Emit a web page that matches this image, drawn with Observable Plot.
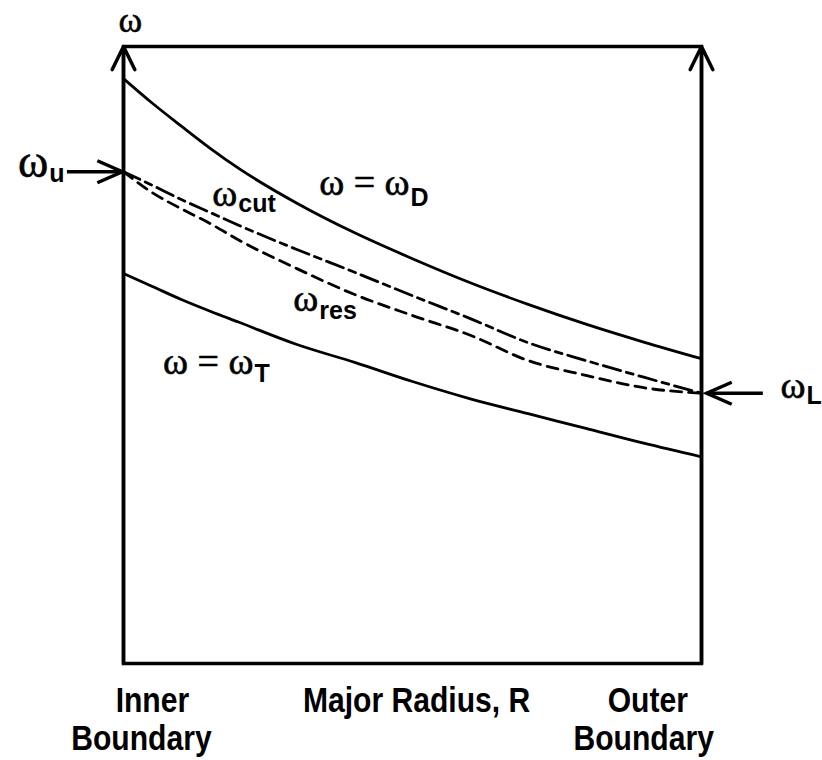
<!DOCTYPE html>
<html><head><meta charset="utf-8">
<script src="https://cdn.jsdelivr.net/npm/d3@7"></script>
<script src="https://cdn.jsdelivr.net/npm/@observablehq/plot@0.6"></script>
<style>body{margin:0;background:#fff}</style>
</head><body><div id="chart"></div>
<script>
// Major radius, normalised: 0 = inner boundary, 1 = outer boundary
const R = [0, 0.05, 0.1, 0.15, 0.2, 0.3, 0.4, 0.5, 0.6, 0.7, 0.8, 0.9, 1];
// frequencies (arbitrary units, 0 = bottom of frame, 100 = top)
const omegaD   = [94.8, 90.8, 87.1, 83.5, 80.2, 74.6, 69.8, 65.6, 61.7, 58.2, 55.0, 52.1, 49.4];
const omegaCut = [79.7, 77.5, 75.2, 73.1, 71.0, 67.1, 63.4, 59.6, 55.9, 52.0, 49.1, 46.4, 43.8];
const omegaRes = [79.7, 76.3, 73.7, 71.3, 68.6, 64.0, 59.8, 56.4, 53.2, 49.1, 46.7, 44.7, 43.8];
const omegaT   = [63.2, 61.1, 59.0, 57.1, 55.3, 51.7, 48.8, 45.7, 42.9, 40.5, 38.1, 35.7, 33.5];

// curve labels: base text (omega) + subscript, anchored in data units
const labelBase  = ["ω", "ω", "ω = ω", "ω", "ω = ω", "ω"];
const labelSub   = ["u", "cut", "D", "res", "T", "L"];
const labelX     = [-0.130, 0.197, 0.495, 0.337, 0.225, 1.180];
const labelBaseY = [78.8, 74.1, 75.9, 57.2, 47.0, 43.1];
const labelSubY  = [78.0, 73.1, 74.2, 55.9, 45.7, 42.1];

// marker arrows for omega_u and omega_L (tail -> tip)
const markerFromX = [-0.097, 1.107];
const markerToX   = [-0.002, 1.009];
const markerY     = [79.7, 43.8];

// axis title and bottom labels
const axisTitle = "ω";
const axisTitleX = 0.012, axisTitleY = 102.4;
const bottomText = ["Inner", "Boundary", "Major Radius, R", "Outer", "Boundary"];
const bottomX = [0.050, 0.031, 0.507, 0.907, 0.900];
const bottomY = [-7.9, -14.1, -7.9, -7.9, -14.1];

const curves = [];
R.forEach((r, i) => {
  curves.push({R: r, w: omegaD[i], s: "D"});
  curves.push({R: r, w: omegaT[i], s: "T"});
  curves.push({R: r, w: omegaCut[i], s: "cut"});
  curves.push({R: r, w: omegaRes[i], s: "res"});
});
const labels = labelBase.map((b, i) => ({base: b, sub: labelSub[i], x: labelX[i], by: labelBaseY[i], sy: labelSubY[i], side: i === 0}));
const markers = markerY.map((y, i) => ({x1: markerFromX[i], x2: markerToX[i], y}));
const bottom = bottomText.map((t, i) => ({t, x: bottomX[i], y: bottomY[i]}));
const axes = [{x: 0}, {x: 1}];

const serif = "'Liberation Serif', 'DejaVu Serif', serif";
const sans = "'Liberation Sans', Arial, sans-serif";

// open chevron arrowhead, tip at the symbol's origin, pointing right
const chevron = {
  draw(context, size) {
    const r = Math.sqrt(size / Math.PI);
    context.moveTo(-r, -r * 0.44);
    context.lineTo(0, 0);
    context.lineTo(-r, r * 0.44);
  }
};

const chart = Plot.plot({
  width: 822, height: 760,
  marginLeft: 123, marginRight: 121, marginTop: 46, marginBottom: 97,
  x: {domain: [0, 1], axis: null},
  y: {domain: [0, 100], axis: null},
  style: {background: "#fff", color: "#000", overflow: "visible"},
  marks: [
    Plot.frame({stroke: "#000", strokeWidth: 3.5}),
    Plot.arrow(axes, {x1: "x", x2: "x", y1: 0, y2: 100, stroke: "#000", strokeWidth: 3.5, headLength: 11, headAngle: 52, bend: 0}),
    Plot.line(curves.filter(d => d.s === "D"), {x: "R", y: "w", curve: "monotone-x", stroke: "#000", strokeWidth: 2.8}),
    Plot.line(curves.filter(d => d.s === "T"), {x: "R", y: "w", curve: "monotone-x", stroke: "#000", strokeWidth: 2.8}),
    Plot.line(curves.filter(d => d.s === "cut"), {x: "R", y: "w", curve: "monotone-x", stroke: "#000", strokeWidth: 2.8, strokeDasharray: "18,6,7,6"}),
    Plot.line(curves.filter(d => d.s === "res"), {x: "R", y: "w", curve: "monotone-x", stroke: "#000", strokeWidth: 2.8, strokeDasharray: "11,7"}),
    Plot.ruleY(markers, {y: "y", x1: "x1", x2: "x2", stroke: "#000", strokeWidth: 3.5}),
    Plot.dot(markers, {x: "x2", y: "y", symbol: chevron, r: 25, rotate: d => d.x2 < d.x1 ? 180 : 0, fill: "none", stroke: "#000", strokeWidth: 3.5, strokeLinejoin: "miter"}),
    Plot.text(labels, {x: "x", y: "by", text: "base", textAnchor: "end", lineAnchor: "bottom", fontFamily: serif, fontSize: d => d.side ? 46 : 38, fill: "#000", stroke: "#000", strokeWidth: 0.6}),
    Plot.text(labels, {x: "x", y: "sy", text: "sub", textAnchor: "start", dx: 1, lineAnchor: "bottom", fontFamily: sans, fontWeight: "bold", fontSize: 25, fill: "#000"}),
    Plot.text([axisTitle], {x: axisTitleX, y: axisTitleY, text: d => d, textAnchor: "middle", lineAnchor: "bottom", fontFamily: serif, fontSize: 36, fill: "#000", stroke: "#000", strokeWidth: 0.5}),
    Plot.text(bottom, {x: "x", y: "y", text: "t", textAnchor: "middle", lineAnchor: "bottom", fontFamily: sans, fontWeight: "bold", fontSize: 35, fill: "#000", className: "bottom-labels"})
  ]
});

// condensed look for the bottom labels (Helvetica Condensed Bold in the original)
chart.querySelectorAll(".bottom-labels text").forEach(t => {
  const tr = t.getAttribute("transform");
  if (tr) t.setAttribute("transform", tr + " scale(0.86,1)");
  else {
    const x = +t.getAttribute("x") || 0;
    t.setAttribute("transform", `translate(${x},0) scale(0.86,1) translate(${-x},0)`);
  }
});
document.getElementById("chart").appendChild(chart);
</script>
</body></html>
